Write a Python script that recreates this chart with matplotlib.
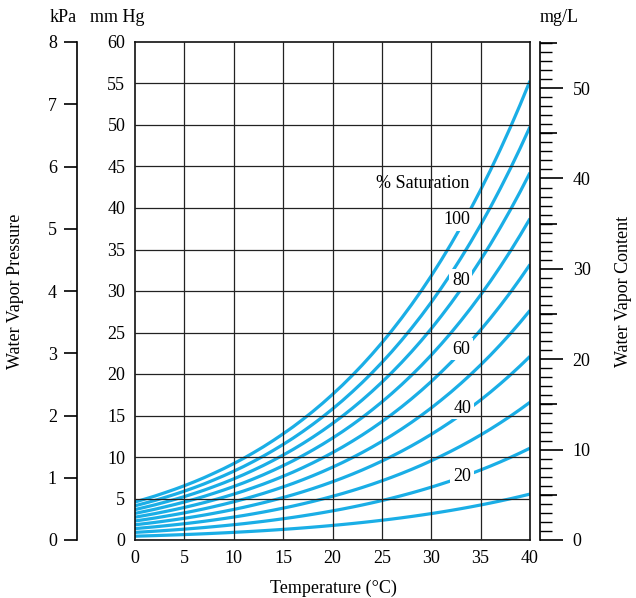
import numpy as np
import matplotlib
matplotlib.use("Agg")
import matplotlib.pyplot as plt
from matplotlib.ticker import MultipleLocator

plt.rcParams['font.family'] = ['Liberation Serif', 'DejaVu Serif']

# Saturation vapour pressure (mm Hg), every 1 degree C
temps = list(range(0, 41))
sat_mmhg = [4.58, 4.93, 5.29, 5.69, 6.10, 6.54, 7.01, 7.51, 8.05, 8.61,
            9.21, 9.84, 10.52, 11.23, 11.99, 12.79, 13.63, 14.53, 15.48, 16.48,
            17.54, 18.65, 19.83, 21.07, 22.38, 23.76, 25.21, 26.74, 28.35, 30.04,
            31.82, 33.70, 35.66, 37.73, 39.90, 42.18, 44.56, 47.07, 49.69, 52.44,
            55.32]
# Saturation levels of the curves (%)
levels = [10, 20, 30, 40, 50, 60, 70, 80, 90, 100]
# Labelled levels and where their labels sit (temperature, mm Hg)
label_levels = [100, 80, 60, 40, 20]
label_pos = [(32.6, 38.6), (33.0, 31.3), (33.0, 23.0), (33.2, 15.9), (33.1, 7.6)]

W, H = 636, 598
fig = plt.figure(figsize=(W / 100, H / 100), dpi=100)

def fx(px):
    return px / W

def fy(py):
    return 1 - py / H

top_px, bot_px = 42, 540
left_px, right_px = 135, 530

ax = fig.add_axes([fx(left_px), fy(bot_px), fx(right_px - left_px), (bot_px - top_px) / H])
ax.set_xlim(0, 40)
ax.set_ylim(0, 60)

line_color = '#1aaee6'
grid_color = '#222222'
t = np.array(temps)
s = np.array(sat_mmhg)
for lv in levels:
    ax.plot(t, s * lv / 100, color=line_color, lw=2.3, zorder=2, solid_capstyle='butt')

for x in range(5, 40, 5):
    ax.axvline(x, color=grid_color, lw=0.9, zorder=4)
for y in range(5, 60, 5):
    ax.axhline(y, color=grid_color, lw=0.9, zorder=4)

for lv, (tx, ty) in zip(label_levels, label_pos):
    ax.text(tx, ty, str(lv), ha='center', va='center', fontsize=13, zorder=3,
            bbox=dict(boxstyle='square,pad=0.15', fc='white', ec='none'))
ax.text(29.1, 42.9, '% Saturation', ha='center', va='center', fontsize=13, zorder=3,
        bbox=dict(boxstyle='square,pad=0.1', fc='white', ec='none'))

ax.set_xticks(range(0, 41, 5))
ax.set_yticks(range(0, 61, 5))
ax.tick_params(length=0, labelsize=13, pad=7)
for sp in ax.spines.values():
    sp.set_linewidth(1.2)
    sp.set_color('#111111')

# kPa axis on the far left
akpa = fig.add_axes([fx(77), fy(bot_px), 0.01, (bot_px - top_px) / H])
akpa.set_ylim(0, 8)
akpa.set_xticks([])
akpa.set_yticks(range(0, 9))
for k in ['top', 'right', 'bottom']:
    akpa.spines[k].set_visible(False)
akpa.spines['left'].set_linewidth(1.2)
akpa.tick_params(axis='y', length=9.5, width=1.2, labelsize=13, pad=5)
akpa.patch.set_visible(False)

# mg/L axis on the right
mg_top = 55.1
ax_pos = [fx(540) - 0.01, fy(bot_px), 0.01, (bot_px - top_px) / H]
amg = fig.add_axes(ax_pos)
amg.set_ylim(0, mg_top)
amg.set_xticks([])
amg.yaxis.tick_right()
amg.set_yticks(range(0, 51, 10))
amg.yaxis.set_minor_locator(MultipleLocator(1))
for k in ['top', 'left', 'bottom']:
    amg.spines[k].set_visible(False)
amg.spines['right'].set_linewidth(1.2)
amg.tick_params(axis='y', which='major', length=16.5, width=1.2, labelsize=13, pad=7)
amg.tick_params(axis='y', which='minor', length=8.5, width=1.0)
amg.patch.set_visible(False)

amg5 = fig.add_axes(ax_pos)
amg5.set_ylim(0, mg_top)
amg5.set_xticks([])
amg5.yaxis.tick_right()
amg5.set_yticks(range(5, 56, 10))
amg5.set_yticklabels([])
for sp in amg5.spines.values():
    sp.set_visible(False)
amg5.tick_params(axis='y', length=12, width=1.2)
amg5.patch.set_visible(False)

fig.text(fx(63), fy(18), 'kPa', ha='center', va='center', fontsize=13)
fig.text(fx(117), fy(18), 'mm Hg', ha='center', va='center', fontsize=13)
fig.text(fx(559), fy(18), 'mg/L', ha='center', va='center', fontsize=13)
fig.text(fx(16), fy(291), 'Water Vapor Pressure', rotation=90, ha='center', va='center', fontsize=13)
fig.text(fx(624), fy(291), 'Water Vapor Content', rotation=90, ha='center', va='center', fontsize=13)
fig.text(fx(333), fy(588), 'Temperature (°C)', ha='center', va='center', fontsize=13)

fig.savefig('out.png', dpi=100)
